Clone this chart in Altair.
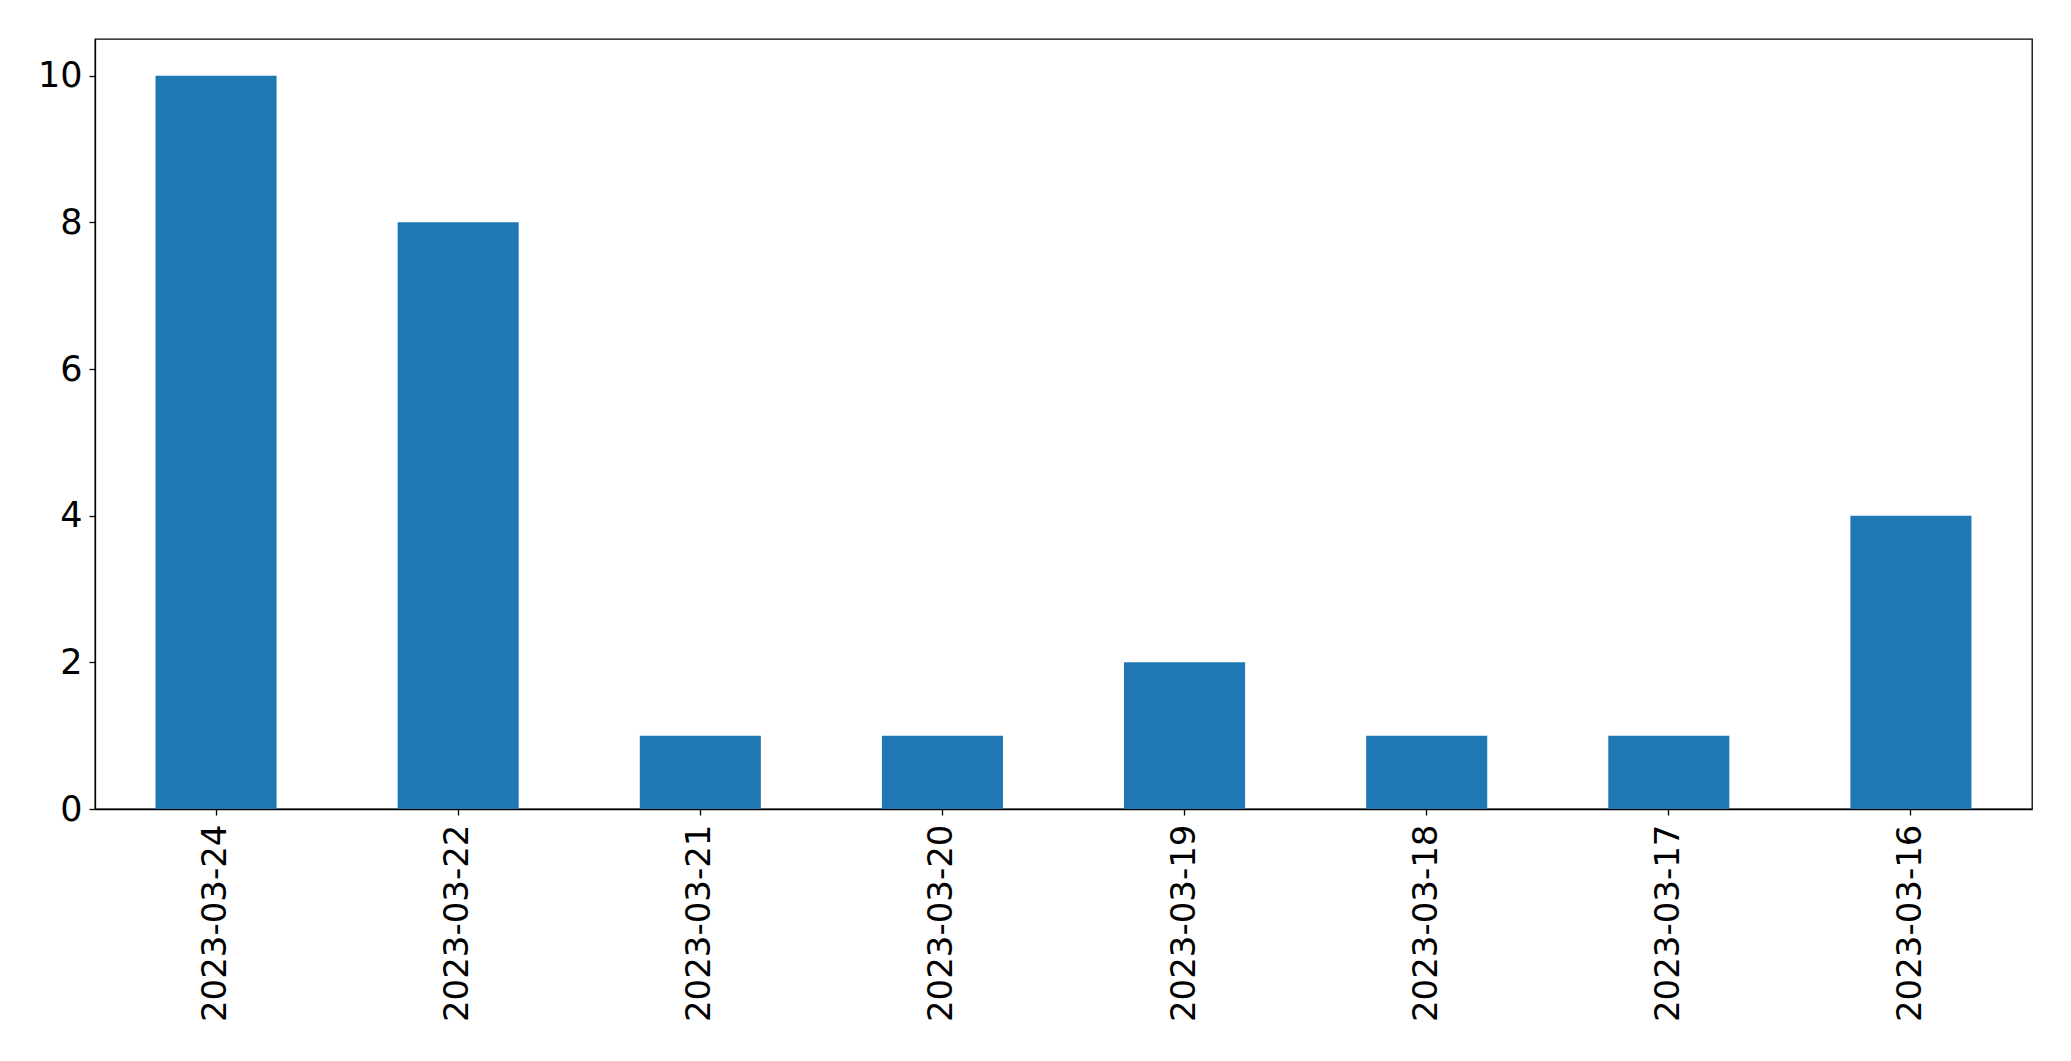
import altair as alt
import pandas as pd

dates = ["2023-03-24", "2023-03-22", "2023-03-21", "2023-03-20",
         "2023-03-19", "2023-03-18", "2023-03-17", "2023-03-16"]
counts = [10, 8, 1, 1, 2, 1, 1, 4]

df = pd.DataFrame({"date": dates, "count": counts})

font = "DejaVu Sans"

chart = alt.Chart(df).mark_bar(color="#1f77b4").encode(
    x=alt.X("date:N", sort=dates, title=None,
            scale=alt.Scale(paddingInner=0.5, paddingOuter=0.25),
            axis=alt.Axis(labelAngle=-90, labelFontSize=34, labelFont=font,
                          labelColor="black", tickColor="black", tickSize=6,
                          tickWidth=1.3, domainColor="black", domainWidth=1.3,
                          labelPadding=9, labelLimit=0, grid=False)),
    y=alt.Y("count:Q", title=None,
            scale=alt.Scale(domain=[0, 10.5], nice=False, zero=True),
            axis=alt.Axis(values=[0, 2, 4, 6, 8, 10], labelFontSize=35,
                          labelFont=font, labelColor="black", tickColor="black",
                          tickSize=6, tickWidth=1.3, domainColor="black",
                          domainWidth=1.3, labelPadding=7, grid=False)),
).properties(
    width=1937, height=770,
    background="white",
    autosize=alt.AutoSizeParams(type="none"),
    padding={"left": 87, "top": 31, "right": 25, "bottom": 230},
).configure_view(
    stroke="black", strokeWidth=1.3
)

chart.save("out.html", embed_options={"renderer": "svg", "actions": False})
